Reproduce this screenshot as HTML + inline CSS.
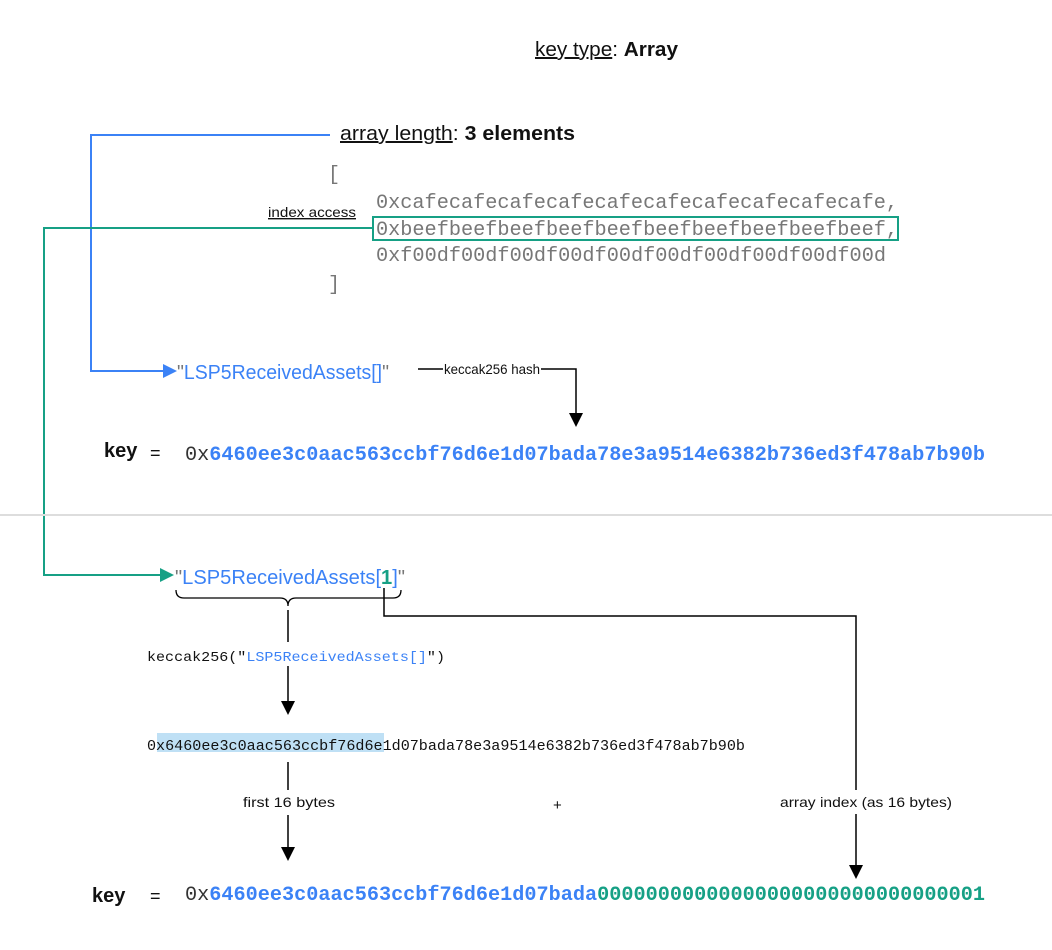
<!DOCTYPE html>
<html><head><meta charset="utf-8"><style>
html,body{margin:0;padding:0;background:#fff;width:1052px;height:950px;overflow:hidden}
text{font-family:"Liberation Sans",sans-serif}
.m{font-family:"Liberation Mono",monospace}
</style></head><body>
<svg width="1052" height="950" viewBox="0 0 1052 950" xmlns="http://www.w3.org/2000/svg">
<!-- title -->
<text x="535" y="56" font-size="20" fill="#111" textLength="143" lengthAdjust="spacingAndGlyphs"><tspan text-decoration="underline">key type</tspan>: <tspan font-weight="bold">Array</tspan></text>
<text x="340" y="140" font-size="20" fill="#111" textLength="235" lengthAdjust="spacingAndGlyphs"><tspan text-decoration="underline">array length</tspan>: <tspan font-weight="bold">3 elements</tspan></text>
<!-- blue connector -->
<polyline points="330,135 91,135 91,371 165,371" fill="none" stroke="#3b82f6" stroke-width="2"/>
<path d="M163,364 L177,371 L163,378z" fill="#3b82f6"/>
<!-- array -->
<text x="328" y="180" font-size="20" class="m" fill="#777">[</text>
<text x="376" y="208" font-size="20" class="m" fill="#777" textLength="522" lengthAdjust="spacingAndGlyphs">0xcafecafecafecafecafecafecafecafecafecafe,</text>
<text x="376" y="235" font-size="20" class="m" fill="#777" textLength="522" lengthAdjust="spacingAndGlyphs">0xbeefbeefbeefbeefbeefbeefbeefbeefbeefbeef,</text>
<text x="376" y="261" font-size="20" class="m" fill="#777" textLength="510" lengthAdjust="spacingAndGlyphs">0xf00df00df00df00df00df00df00df00df00df00d</text>
<text x="328" y="290" font-size="20" class="m" fill="#777">]</text>
<rect x="373" y="217" width="525" height="23" fill="none" stroke="#16a085" stroke-width="2"/>
<text x="268" y="217" font-size="14" fill="#111" text-decoration="underline" textLength="88" lengthAdjust="spacingAndGlyphs">index access</text>
<!-- green connector -->
<polyline points="373,228 44,228 44,575 162,575" fill="none" stroke="#16a085" stroke-width="2"/>
<path d="M160,568 L174,575 L160,582z" fill="#16a085"/>
<!-- LSP5 [] -->
<text x="177" y="379" font-size="20" fill="#3b82f6" textLength="212" lengthAdjust="spacingAndGlyphs"><tspan fill="#777">"</tspan>LSP5ReceivedAssets[]<tspan fill="#777">"</tspan></text>
<line x1="418" y1="369" x2="443" y2="369" stroke="#000" stroke-width="1.5"/>
<text x="444" y="374" font-size="14" fill="#111" textLength="96" lengthAdjust="spacingAndGlyphs">keccak256 hash</text>
<polyline points="541,369 576,369 576,414" fill="none" stroke="#000" stroke-width="1.5"/>
<path d="M569,413 L576,427 L583,413z" fill="#000"/>
<!-- key 1 -->
<text x="104" y="457" font-size="20" font-weight="bold" fill="#111">key</text>
<text x="150" y="459" font-size="18" fill="#111">=</text>
<text x="185" y="460" font-size="20" class="m" font-weight="bold" fill="#3b82f6" textLength="800" lengthAdjust="spacingAndGlyphs"><tspan fill="#333" font-weight="normal">0x</tspan>6460ee3c0aac563ccbf76d6e1d07bada78e3a9514e6382b736ed3f478ab7b90b</text>
<!-- separator -->
<line x1="0" y1="515" x2="1052" y2="515" stroke="#ddd" stroke-width="2"/>
<!-- LSP5 [1] -->
<text x="175" y="584" font-size="20" fill="#3b82f6" textLength="230" lengthAdjust="spacingAndGlyphs"><tspan fill="#777">"</tspan>LSP5ReceivedAssets[<tspan fill="#16a085" font-weight="bold">1</tspan>]<tspan fill="#777">"</tspan></text>
<path d="M176,590 Q176,598 184,598 L280,598 Q288,598 288,606 Q288,598 296,598 L393,598 Q401,598 401,590" fill="none" stroke="#000" stroke-width="1.3"/>
<line x1="288" y1="610" x2="288" y2="642" stroke="#000" stroke-width="1.5"/>
<text x="147" y="661" font-size="14" class="m" fill="#111" textLength="298" lengthAdjust="spacingAndGlyphs">keccak256("<tspan fill="#3b82f6">LSP5ReceivedAssets[]</tspan>")</text>
<line x1="288" y1="666" x2="288" y2="702" stroke="#000" stroke-width="1.5"/>
<path d="M281,701 L288,715 L295,701z" fill="#000"/>
<!-- index connector -->
<polyline points="384,588 384,616 856,616 856,866" fill="none" stroke="#000" stroke-width="1.5"/>
<path d="M849,865 L856,879 L863,865z" fill="#000"/>
<!-- hash -->
<rect x="157" y="733" width="227" height="19" fill="#bfe0f5"/>
<text x="147" y="750" font-size="15" class="m" fill="#111" textLength="598" lengthAdjust="spacingAndGlyphs">0x6460ee3c0aac563ccbf76d6e1d07bada78e3a9514e6382b736ed3f478ab7b90b</text>
<line x1="288" y1="762" x2="288" y2="790" stroke="#000" stroke-width="1.5"/>
<text x="243" y="807" font-size="14" fill="#111" textLength="92" lengthAdjust="spacingAndGlyphs">first 16 bytes</text>
<line x1="288" y1="815" x2="288" y2="848" stroke="#000" stroke-width="1.5"/>
<path d="M281,847 L288,861 L295,847z" fill="#000"/>
<text x="553" y="810" font-size="15" fill="#111">+</text>
<rect x="776" y="790" width="180" height="24" fill="#fff"/>
<text x="780" y="807" font-size="14" fill="#111" textLength="172" lengthAdjust="spacingAndGlyphs">array index (as 16 bytes)</text>
<!-- key 2 -->
<text x="92" y="902" font-size="20" font-weight="bold" fill="#111">key</text>
<text x="150" y="902" font-size="18" fill="#111">=</text>
<text x="185" y="900" font-size="20" class="m" font-weight="bold" fill="#3b82f6" textLength="800" lengthAdjust="spacingAndGlyphs"><tspan fill="#333" font-weight="normal">0x</tspan>6460ee3c0aac563ccbf76d6e1d07bada<tspan fill="#16a085">00000000000000000000000000000001</tspan></text>
</svg>
</body></html>
